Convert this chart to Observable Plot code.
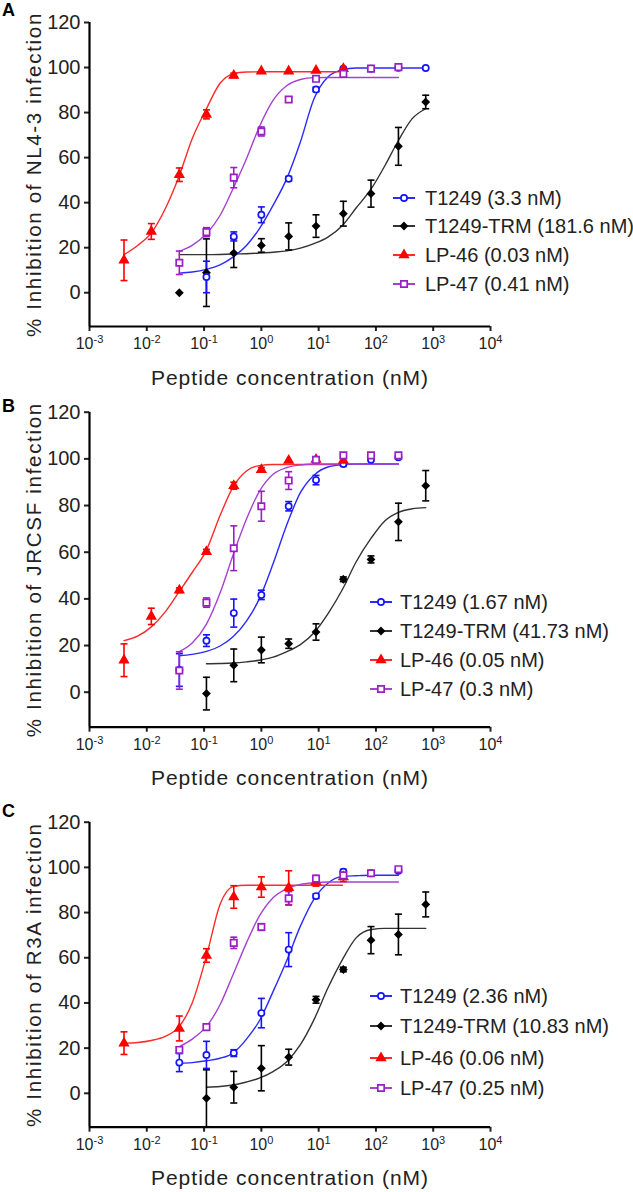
<!DOCTYPE html>
<html>
<head>
<meta charset="utf-8">
<script src="https://cdn.jsdelivr.net/npm/d3@7"></script>
<script src="https://cdn.jsdelivr.net/npm/@observablehq/plot@0.6"></script>
<style>
  body { margin: 0; background: #fff; }
  #fig { position: relative; width: 633px; height: 1192px; overflow: hidden; font-family: "Liberation Sans", Arial, sans-serif; }
  .panel { position: absolute; left: 0; width: 633px; }
  .letter { position: absolute; font-weight: bold; font-size: 18px; line-height: 18px; color: #000; }
  .row { position: absolute; height: 20px; line-height: 20px; font-size: 20px; white-space: nowrap; color: #222; display: flex; align-items: center; }
  .row svg { flex: none; }
</style>
</head>
<body>
<div id="fig"></div>
<script>
// ---------------- data ----------------
const conc = [0.004, 0.012, 0.037, 0.11, 0.33, 1, 3, 9, 27, 82, 247, 740];
const curveConc = [0.004, 0.0069, 0.012, 0.021, 0.037, 0.062, 0.11, 0.19, 0.32, 0.55, 0.92, 1.6, 2.8, 4.8, 8.3, 14.5, 26, 45, 83, 144, 247, 430, 740];
const seriesNames = ["T1249", "T1249-TRM", "LP-46", "LP-47"];
const xTicks = [1e-3, 1e-2, 1e-1, 1, 10, 100, 1000, 10000];
const yTicks = [0, 20, 40, 60, 80, 100, 120];
const xTitle = "Peptide concentration (nM)";
const panelLetters = ["A", "B", "C"];
const yTitles = ["% Inhibition of NL4-3 infection", "% Inhibition of JRCSF infection", "% Inhibition of R3A infection"];
const legendA = ["T1249 (3.3 nM)", "T1249-TRM (181.6 nM)", "LP-46 (0.03 nM)", "LP-47 (0.41 nM)"];
const legendB = ["T1249 (1.67 nM)", "T1249-TRM (41.73 nM)", "LP-46 (0.05 nM)", "LP-47 (0.3 nM)"];
const legendC = ["T1249 (2.36 nM)", "T1249-TRM (10.83 nM)", "LP-46 (0.06 nM)", "LP-47 (0.25 nM)"];

// Panel A (NL4-3) means and SDs, one value per concentration
const A_T1249     = [null, null, null, 7.0, 25.0, 34.6, 50.6, 90.3, 99.5, 99.5, 99.9, 99.8];
const A_T1249_sd  = [null, null, null, 7, 2, 3.5, 1, 1, 0.5, 0.5, 0.5, 0.5];
const A_TRM       = [null, null, 0, 8.9, 17.6, 21.0, 25.0, 29.6, 35.1, 44.0, 65.0, 84.7];
const A_TRM_sd    = [null, null, 0, 15, 6.4, 3, 6, 5, 5.5, 6, 8.4, 3];
const A_LP46      = [14.4, 27.2, 52.4, 79.2, 96.5, 98.4, 98.4, 98.7, 99.5, null, null, null];
const A_LP46_sd   = [9, 3.5, 3, 2, 1, 0.5, 0.5, 0.5, 0.5, null, null, null];
const A_LP47      = [null, null, 13.3, 26.9, 51.1, 71.6, 85.8, 95.0, 97.2, 99.5, 100.2, null];
const A_LP47_sd   = [null, null, 5.2, 2, 4.5, 2, 1, 0.5, 0.5, 0.5, 0.5, null];

// Panel B (JRCSF)
const B_T1249     = [null, null, 9.5, 22.1, 33.9, 41.7, 79.7, 90.9, 97.8, 99.6, 100.7, null];
const B_T1249_sd  = [null, null, 7, 2.5, 6, 2, 2, 2, 1, 0.5, 0.5, null];
const B_TRM       = [null, null, null, -0.6, 11.5, 18.1, 20.8, 25.8, 48.4, 56.9, 73.0, 88.5];
const B_TRM_sd    = [null, null, null, 7, 7, 5.5, 2, 3.5, 1, 1.5, 8, 6.5];
const B_LP46      = [13.7, 32.5, 43.7, 60.2, 88.5, 95.3, 99.3, 99.7, 99.3, null, null, null];
const B_LP46_sd   = [7, 3.5, 1, 1, 1.5, 1, 0.5, 0.5, 0.5, null, null, null];
const B_LP47      = [null, null, 9.3, 38.4, 61.7, 79.7, 90.7, 99.6, 101.5, 101.5, 101.5, null];
const B_LP47_sd   = [null, null, 8, 2, 9.6, 6.4, 3.8, 0.5, 0.5, 0.5, 1, null];

// Panel C (R3A)
const C_T1249     = [null, null, 13.6, 17.0, 17.8, 35.5, 63.6, 87.3, 98.1, 97.4, 98.5, null];
const C_T1249_sd  = [null, null, 4, 6, 1.5, 6.5, 7.5, 1, 1, 1, 0.5, null];
const C_TRM       = [null, null, null, -2.2, 2.7, 11.1, 16.0, 41.4, 54.8, 67.8, 70.3, 83.6];
const C_TRM_sd    = [null, null, null, 12.6, 7, 10, 3.5, 1.5, 1, 6, 9, 5.5];
const C_LP46      = [22.2, null, 28.7, 61.0, 86.9, 91.3, 91.0, 93.7, 95.8, null, null, null];
const C_LP46_sd   = [5, null, 5.5, 3, 5, 4.5, 7.5, 2, 2, null, null, null];
const C_LP47      = [null, null, 19.2, 29.3, 66.6, 73.6, 86.3, 95.0, 96.5, 97.4, 99.2, null];
const C_LP47_sd   = [null, null, 1, 1, 2.5, 1.5, 3, 1.5, 1, 1, 1, null];

// Fitted curves at curveConc
const n = null;
const fitA_T1249 = [n, n, n, n, 8.7, 9.2, 10.4, 12.4, 15.8, 21.0, 28.4, 38.8, 50.9, 66.9, 86.1, 95.8, 99.0, 99.8, 99.8, 99.8, 99.8, 99.8, 99.8];
const fitA_TRM   = [n, n, n, n, 16.9, 16.9, 16.9, 17.0, 17.2, 17.3, 17.6, 18.0, 18.6, 19.8, 21.8, 24.7, 29.9, 37.6, 46.2, 56.5, 67.6, 77.3, 81.7];
const fitA_LP46  = [16.9, 21.0, 26.6, 37.3, 52.1, 68.4, 81.7, 93.0, 97.2, 98.0, 98.1, 98.1, 98.1, 98.1, 98.1, 98.1, 98.1, n, n, n, n, n, n];
const fitA_LP47  = [n, n, n, n, 18.4, 21.0, 26.2, 34.3, 46.2, 59.5, 73.6, 85.4, 92.0, 94.7, 95.5, 95.6, 95.6, 95.6, 95.6, 95.6, 95.6, n, n];

const fitB_T1249 = [n, n, n, n, 15.6, 16.2, 17.5, 19.8, 23.8, 30.5, 40.0, 55.0, 72.0, 85.5, 93.0, 96.5, 97.5, 97.8, 97.8, 97.8, 97.8, n, n];
const fitB_TRM   = [n, n, n, n, n, n, 12.2, 12.3, 12.5, 13.0, 13.7, 15.0, 17.4, 20.4, 25.5, 33.6, 44.0, 55.8, 66.1, 73.5, 77.1, 78.6, 79.1];
const fitB_LP46  = [22.1, 24.0, 28.0, 34.4, 43.2, 51.3, 60.9, 75.7, 87.9, 94.8, 97.1, 97.6, 97.6, 97.6, 97.6, 97.6, 97.6, n, n, n, n, n, n];
const fitB_LP47  = [n, n, n, n, 17.4, 21.1, 29.2, 42.5, 58.7, 74.2, 86.0, 93.4, 96.3, 97.4, 97.8, 97.8, 97.8, 97.8, 97.8, 97.8, 97.8, n, n];

const fitC_T1249 = [n, n, n, n, 13.3, 13.6, 14.4, 15.5, 17.8, 24.0, 32.0, 45.0, 59.0, 74.0, 86.0, 93.0, 96.0, 96.3, 96.5, 96.5, 96.5, n, n];
const fitC_TRM   = [n, n, n, n, n, n, 2.7, 3.0, 3.7, 5.0, 6.7, 9.6, 14.1, 21.5, 32.6, 46.6, 59.2, 68.8, 72.5, 73.0, 73.0, 73.0, 73.0];
const fitC_LP46  = [22.2, 22.5, 23.4, 25.2, 29.6, 40.0, 60.7, 83.6, 91.5, 92.1, 92.1, 92.1, 92.1, 92.1, 92.1, 92.1, 92.1, n, n, n, n, n, n];
const fitC_LP47  = [n, n, n, n, 20.7, 24.0, 29.6, 39.2, 52.5, 66.6, 78.4, 86.6, 90.6, 92.5, 93.2, 93.5, 93.5, 93.5, 93.5, 93.5, 93.5, n, n];

// ---------------- styling ----------------
const FONT = '"Liberation Sans", Arial, sans-serif';
const markColors  = ["#1414ff", "#000000", "#ff0000", "#9b1fc4"];
const curveColors = ["#2a2aff", "#333333", "#ff2a2a", "#a542d2"];
const symbols     = ["circle", "diamond2", "triangle", "square"];
const symFill     = ["white", "#000000", "#ff0000", "white"];
const symR        = [3.1, 2.9, 3.1, 3.6];
const drawOrder   = [1, 0, 2, 3];

const capSymbol = { draw(ctx, size) { const w = Math.sqrt(size / Math.PI); ctx.moveTo(-w, 0); ctx.lineTo(w, 0); } };

const panels = [
  { values: [A_T1249, A_TRM, A_LP46, A_LP47], sds: [A_T1249_sd, A_TRM_sd, A_LP46_sd, A_LP47_sd],
    fits: [fitA_T1249, fitA_TRM, fitA_LP46, fitA_LP47], legend: legendA,
    top: 0, height: 390, marginTop: 22, marginBottom: 64, letterTop: 1,
    legendLeft: 393, legendRows: [197.5, 226, 255, 283.5], textGap: 32 },
  { values: [B_T1249, B_TRM, B_LP46, B_LP47], sds: [B_T1249_sd, B_TRM_sd, B_LP46_sd, B_LP47_sd],
    fits: [fitB_T1249, fitB_TRM, fitB_LP46, fitB_LP47], legend: legendB,
    top: 390, height: 390, marginTop: 21.7, marginBottom: 53.3, letterTop: 397,
    legendLeft: 370, legendRows: [601.7, 631, 660, 688.5], textGap: 30 },
  { values: [C_T1249, C_TRM, C_LP46, C_LP47], sds: [C_T1249_sd, C_TRM_sd, C_LP46_sd, C_LP47_sd],
    fits: [fitC_T1249, fitC_TRM, fitC_LP46, fitC_LP47], legend: legendC,
    top: 780, height: 412, marginTop: 41.7, marginBottom: 65.3, letterTop: 802,
    legendLeft: 370, legendRows: [995.5, 1026, 1057.5, 1088.3], textGap: 30 }
];

const fig = document.getElementById("fig");

panels.forEach((p, pi) => {
  const pts = [];
  p.values.forEach((arr, s) => arr.forEach((v, i) => {
    if (v != null) pts.push({ s, name: seriesNames[s], x: conc[i], y: v, sd: p.sds[s][i] ?? 0 });
  }));
  const curves = [];
  p.fits.forEach((arr, s) => arr.forEach((v, i) => {
    if (v != null) curves.push({ s, x: curveConc[i], y: v });
  }));

  const marks = [
    Plot.axisX({ ticks: xTicks, tickSize: 5, tickPadding: 6, strokeWidth: 2, fontSize: 16,
      tickFormat: d => String(Math.round(Math.log10(d))),
      label: xTitle, labelAnchor: "center", labelOffset: 58, labelArrow: "none" }),
    Plot.axisY({ ticks: yTicks, tickSize: 5, tickPadding: 4, strokeWidth: 2, fontSize: 20,
      label: yTitles[pi], labelAnchor: "center", labelOffset: 63, labelArrow: "none" }),
    Plot.ruleY([-15], { strokeWidth: 2.2, stroke: "#000" }),
    Plot.ruleX([1e-3], { strokeWidth: 2.2, stroke: "#000" })
  ];
  for (const s of drawOrder) {
    marks.push(Plot.line(curves.filter(d => d.s === s), { x: "x", y: "y", stroke: curveColors[s], strokeWidth: 1.4, curve: "monotone-x" }));
  }
  for (const s of drawOrder) {
    const eb = pts.filter(d => d.s === s && d.sd > 0.8);
    marks.push(Plot.ruleX(eb, { x: "x", y1: d => d.y - d.sd, y2: d => d.y + d.sd, stroke: markColors[s], strokeWidth: 1.6 }));
    marks.push(Plot.dot(eb, { x: "x", y: d => d.y + d.sd, symbol: capSymbol, r: 3.5, stroke: markColors[s], strokeWidth: 1.6 }));
    marks.push(Plot.dot(eb, { x: "x", y: d => d.y - d.sd, symbol: capSymbol, r: 3.5, stroke: markColors[s], strokeWidth: 1.6 }));
  }
  for (const s of drawOrder) {
    marks.push(Plot.dot(pts.filter(d => d.s === s), { x: "x", y: "y", symbol: symbols[s], r: symR[s],
      stroke: markColors[s], fill: symFill[s], strokeWidth: 1.7 }));
  }

  const chart = Plot.plot({
    width: 633, height: p.height,
    marginLeft: 89, marginRight: 143, marginTop: p.marginTop, marginBottom: p.marginBottom,
    style: { fontFamily: FONT, color: "#222", background: "transparent", overflow: "visible" },
    x: { type: "log", domain: [1e-3, 1e4] },
    y: { domain: [-15, 120] },
    marks
  });

  // superscript exponents on x tick labels
  chart.querySelectorAll('g[aria-label="x-axis tick label"] text').forEach(t => {
    const e = t.textContent;
    t.textContent = "10";
    const ts = document.createElementNS("http://www.w3.org/2000/svg", "tspan");
    ts.setAttribute("dy", "-0.5em");
    ts.setAttribute("font-size", "11");
    ts.style.fontSize = "11px";
    ts.textContent = e;
    t.appendChild(ts);
  });
  const setSize = (sel, size, spacing) => chart.querySelectorAll(sel).forEach(t => {
    t.setAttribute("font-size", size);
    t.style.fontSize = size + "px";
    if (spacing) t.style.letterSpacing = spacing;
    t.setAttribute("fill", "#222");
  });
  setSize('g[aria-label="x-axis tick label"] text', 16);
  setSize('g[aria-label="y-axis tick label"] text', 20);
  setSize('g[aria-label="x-axis label"] text', 21, "1px");
  setSize('g[aria-label="y-axis label"] text', 20.5, "1.7px");

  const wrap = document.createElement("div");
  wrap.className = "panel";
  wrap.style.top = p.top + "px";
  wrap.appendChild(chart);
  fig.appendChild(wrap);

  const L = document.createElement("div");
  L.className = "letter";
  L.style.left = "2px";
  L.style.top = p.letterTop + "px";
  L.textContent = panelLetters[pi];
  fig.appendChild(L);

  // legend
  p.legend.forEach((label, s) => {
    const row = document.createElement("div");
    row.className = "row";
    row.style.left = p.legendLeft + "px";
    row.style.top = (p.legendRows[s] - 10) + "px";
    const ns = "http://www.w3.org/2000/svg";
    const sv = document.createElementNS(ns, "svg");
    sv.setAttribute("width", "23"); sv.setAttribute("height", "20");
    sv.style.marginRight = (p.textGap - 23) + "px";
    const ln = document.createElementNS(ns, "line");
    ln.setAttribute("x1", "0"); ln.setAttribute("x2", "22"); ln.setAttribute("y1", "10"); ln.setAttribute("y2", "10");
    ln.setAttribute("stroke", curveColors[s]); ln.setAttribute("stroke-width", "2");
    sv.appendChild(ln);
    const path = document.createElementNS(ns, "path");
    const symMap = { circle: d3.symbolCircle, diamond2: d3.symbolDiamond2, triangle: d3.symbolTriangle, square: d3.symbolSquare };
    path.setAttribute("d", d3.symbol(symMap[symbols[s]], Math.PI * symR[s] * symR[s])());
    path.setAttribute("transform", "translate(11,10)");
    path.setAttribute("fill", symFill[s]); path.setAttribute("stroke", markColors[s]); path.setAttribute("stroke-width", "1.7");
    sv.appendChild(path);
    row.appendChild(sv);
    const tx = document.createElement("span");
    tx.textContent = label;
    row.appendChild(tx);
    fig.appendChild(row);
  });
});
</script>
</body>
</html>
